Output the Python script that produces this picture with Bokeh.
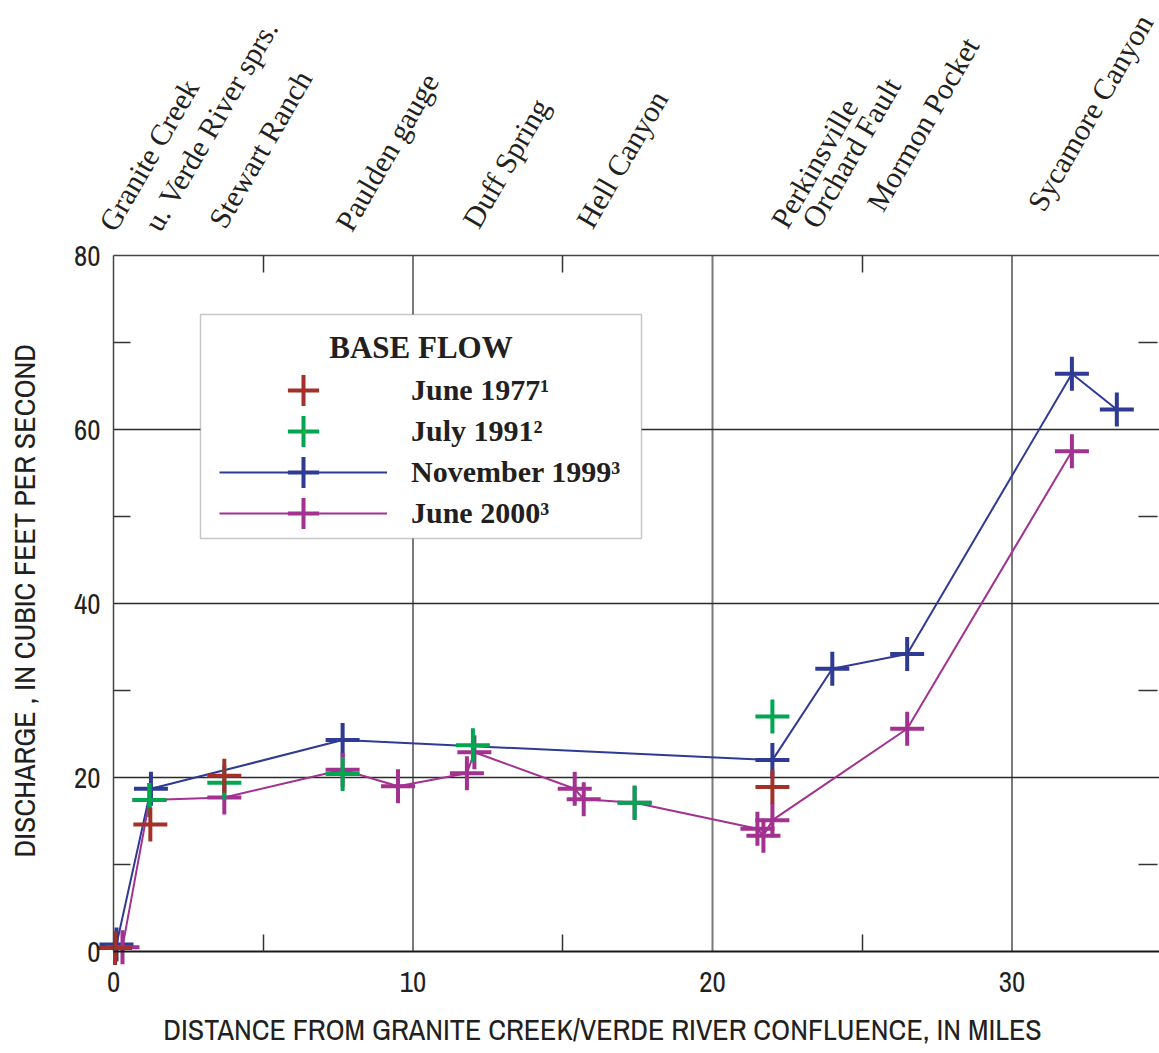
import math
from bokeh.plotting import figure
from bokeh.models import (LinearAxis, FixedTicker, Range1d, Legend, LegendItem,
                          ColumnDataSource, LabelSet, Label, BoxAnnotation)
from bokeh.embed import file_html
from bokeh.resources import INLINE

# ---------------- data ----------------
miles_1977 = [0.05, 1.23, 3.7, 22.0]
flow_1977 = [0.4, 14.6, 20.2, 18.9]

miles_1991 = [1.2, 3.7, 7.65, 12.0, 17.4, 22.0]
flow_1991 = [17.4, 19.4, 20.4, 23.7, 17.1, 27.0]

miles_1999 = [0.1, 1.25, 7.65, 22.0, 24.0, 26.5, 32.0, 33.5]
flow_1999 = [0.8, 18.7, 24.3, 22.0, 32.5, 34.2, 66.4, 62.3]

miles_2000 = [0.3, 1.2, 3.7, 7.65, 9.5, 11.8, 12.05, 15.4, 15.7, 17.4, 21.5, 21.7, 22.0, 26.5, 32.0]
flow_2000 = [0.5, 17.4, 17.7, 20.9, 19.0, 20.5, 22.9, 18.7, 17.5, 17.1, 14.1, 13.3, 15.1, 25.6, 57.5]

site_names = ["Granite Creek", "u. Verde River sprs.", "Stewart Ranch", "Paulden gauge",
              "Duff Spring", "Hell Canyon", "Perkinsville", "Orchard Fault",
              "Mormon Pocket", "Sycamore Canyon"]
site_miles = [0, 1.2, 3.7, 7.7, 12.0, 15.7, 22.0, 24.0, 26.5, 32.0]

x_ticks = [0, 10, 20, 30]
x_minor = [5, 15, 25]
y_ticks = [0, 20, 40, 60, 80]
y_minor = [10, 30, 50, 70]
v_grid = [10, 20, 30]
h_grid = [20, 40, 60]
Y_TOP = 80

legend_title = "BASE FLOW"
legend_labels = ["June 1977\u00b9", "July 1991\u00b2", "November 1999\u00b3", "June 2000\u00b3"]
x_title = "DISTANCE FROM GRANITE CREEK/VERDE RIVER CONFLUENCE, IN MILES"
y_title = "DISCHARGE , IN CUBIC FEET PER SECOND"

# ---------------- layout / styling ----------------
RED = "#A3312A"
GREEN = "#00A650"
BLUE = "#2E3A94"
PURPLE = "#A2318F"
INK = "#231f20"
AX_FONT = "'Archivo Narrow', Roboto"
SERIF = "Liberation Serif"

W, H = 1159, 1050
ORG_X, ORG_Y = 113.0, 951.0     # canvas pixel of the (0, 0) data point
SX, SY = 29.95, 8.7             # pixels per mile / per cfs


def dx(px):
    return (px - ORG_X) / SX


def dy(py):
    return (ORG_Y - py) / SY


X0, X1 = dx(0), dx(W)
Y0, Y1 = dy(H), dy(0)

p = figure(width=W, height=H, x_range=Range1d(X0, X1), y_range=Range1d(Y0, Y1),
           output_backend="svg", toolbar_location=None, title=None,
           x_axis_type=None, y_axis_type=None,
           min_border_left=0, min_border_right=0, min_border_top=0, min_border_bottom=0)
p.outline_line_color = None
p.background_fill_color = "white"
p.border_fill_color = "white"

# grid lines
p.segment(x0=v_grid, y0=[0] * len(v_grid), x1=v_grid, y1=[Y_TOP] * len(v_grid),
          line_color="#7a7a7a", line_width=2)
p.segment(x0=[0] * len(h_grid), y0=h_grid, x1=[X1] * len(h_grid), y1=h_grid,
          line_color="#2a2a2a", line_width=1.5)

# data
CROSS = 34
LW = 4
l99 = p.line(miles_1999, flow_1999, line_color=BLUE, line_width=2)
l00 = p.line(miles_2000, flow_2000, line_color=PURPLE, line_width=2)
r99 = p.scatter(miles_1999, flow_1999, marker="cross", size=CROSS, line_color=BLUE, line_width=LW)
r00 = p.scatter(miles_2000, flow_2000, marker="cross", size=CROSS, line_color=PURPLE, line_width=LW)
r91 = p.scatter(miles_1991, flow_1991, marker="cross", size=CROSS, line_color=GREEN, line_width=LW)
r77 = p.scatter(miles_1977, flow_1977, marker="cross", size=CROSS, line_color=RED, line_width=LW)

tick_style = dict(major_tick_in=0, major_tick_out=0, minor_tick_out=0,
                  minor_tick_line_color="#333333", minor_tick_line_width=1.5)

xaxis = LinearAxis(fixed_location=0, bounds=(0, X1),
                   ticker=FixedTicker(ticks=x_ticks, minor_ticks=x_minor),
                   axis_line_color="#1a1a1a", axis_line_width=2, minor_tick_in=17,
                   major_label_standoff=20,
                   major_label_text_font=AX_FONT, major_label_text_font_size="29px",
                   major_label_text_color=INK, **tick_style)
p.add_layout(xaxis, "below")

yaxis = LinearAxis(fixed_location=0, bounds=(0, Y_TOP),
                   ticker=FixedTicker(ticks=y_ticks, minor_ticks=y_minor),
                   axis_line_color="#444444", axis_line_width=1.5, minor_tick_in=17,
                   major_label_standoff=13,
                   major_label_text_font=AX_FONT, major_label_text_font_size="29px",
                   major_label_text_color=INK, **tick_style)
p.add_layout(yaxis, "left")

top = LinearAxis(fixed_location=Y_TOP, bounds=(0, X1),
                 ticker=FixedTicker(ticks=[], minor_ticks=x_minor),
                 axis_line_color="#444444", axis_line_width=1.5, minor_tick_in=17,
                 major_label_text_font_size="0px", **tick_style)
p.add_layout(top, "above")

right = LinearAxis(fixed_location=dx(1157), bounds=(0, Y_TOP),
                   ticker=FixedTicker(ticks=[], minor_ticks=y_minor),
                   axis_line_color=None, minor_tick_in=19,
                   major_label_text_font_size="0px", **tick_style)
p.add_layout(right, "right")

# axis titles
p.add_layout(Label(x=dx(602), y=dy(1028), text=x_title, text_align="center",
                   text_baseline="alphabetic", text_font=AX_FONT, text_font_size="30px",
                   text_color=INK))
p.add_layout(Label(x=dx(23), y=dy(600), text=y_title, angle=math.pi / 2, text_align="center",
                   text_baseline="alphabetic", text_font=AX_FONT, text_font_size="30px",
                   text_color=INK))

# site names above the plot
label_dx = [2, 11, 1, 8, 6, 9, 15, -14, -24, -28]
label_base_px = [233, 233, 230, 233, 230, 230, 230, 230, 213, 213]
site_src = ColumnDataSource(dict(x=site_miles, y=[dy(b) for b in label_base_px],
                                 off=label_dx, name=site_names))
p.add_layout(LabelSet(source=site_src, x="x", y="y", x_offset="off", text="name",
                      angle=math.radians(60), text_align="left", text_baseline="alphabetic",
                      text_font=SERIF, text_font_size="30px", text_color=INK))

# legend frame and title
BOX_L, BOX_R, BOX_T, BOX_B = dx(200), dx(641), dy(314), dy(538)
p.add_layout(BoxAnnotation(left=BOX_L, right=BOX_R, top=BOX_T, bottom=BOX_B,
                           fill_color="white", fill_alpha=1.0,
                           line_color="#444444", line_width=1.5))
p.add_layout(Label(x=(BOX_L + BOX_R) / 2, y=dy(347), text=legend_title, text_align="center",
                   text_baseline="alphabetic", text_font=SERIF, text_font_style="bold",
                   text_font_size="31px", text_color=INK))

# one legend per row so the cross glyphs can be large
row_renderers = [[r77], [r91], [l99, r99], [l00, r00]]
row_centers = [390, 431, 472, 513]
GH = 78
for lab, rends, yc in zip(legend_labels, row_renderers, row_centers):
    lg = Legend(items=[LegendItem(label=lab, renderers=rends)],
                location=(219, H - (yc + GH // 2)), orientation="vertical",
                glyph_width=168, glyph_height=GH, padding=0, margin=0, spacing=0,
                label_standoff=24, label_text_font=SERIF, label_text_font_style="bold",
                label_text_font_size="30px", label_text_color=INK,
                border_line_color=None, background_fill_alpha=0)
    p.add_layout(lg)

open("out.html", "w").write(file_html(p, INLINE))
